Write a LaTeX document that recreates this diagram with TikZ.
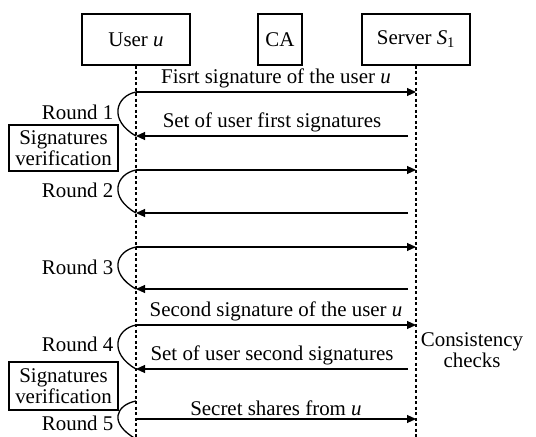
\documentclass[tikz,border=0pt]{standalone}
\usepackage{fontspec}
\setmainfont{Liberation Serif}
\usetikzlibrary{arrows.meta}
\tikzset{
every picture/.style={line width=1.2bp, >={Triangle[length=9bp,width=8bp]}},
%%%%%%%%%%  Node styles
actor/.style={draw, line width=1.2bp, minimum height=51bp, inner sep=0pt},
checkbox/.style={draw, align=center, minimum width=109bp,
                 minimum height=46bp, inner sep=1bp},
roundlabel/.style={anchor=east, inner sep=2bp},
msglabel/.style={above, inner sep=3bp},
%%%% different line styles:
lifeline/.style={dash pattern=on 3bp off 2.5bp, line width=1.2bp},
msg/.style={->, line width=1.1bp},
roundbracket/.style={line width=1.3bp}
}

\begin{document}
\begin{tikzpicture}[x=1bp, y=-1bp, font=\fontsize{21}{21}\selectfont]
\useasboundingbox (0,0) rectangle (536,437);
%% actors
\node[actor, minimum width=108bp] (user) at (136,39.5) {User \textit{u}};
\node[actor, minimum width=44bp] (ca) at (280,39.5) {CA};
\node[actor, minimum width=108bp] (server) at (416,39.5) {Server \textit{S}\textsubscript{1}};
%% lifelines
\coordinate (uend) at (136,437);
\coordinate (send) at (416,437);
\draw[lifeline] (user.south) -- (uend);
\draw[lifeline] (server.south) -- (send);
%% message levels
\foreach \k/\y in {1/92, 2/136, 3/170, 4/213, 5/247, 6/289, 7/325, 8/369, 9/419}
{
  \coordinate (u\k) at (136,\y);
  \coordinate (s\k) at (416,\y);
}
\coordinate (r5a) at (136,401);
\coordinate (r5b) at (136,439);
%% messages
\draw[msg] (u1) -- (s1) node[msglabel, midway] {Fisrt signature of the user \textit{u}};
\draw[msg] ([xshift=-8bp]s2) -- (u2) node[msglabel, midway] {Set of user first signatures};
\draw[msg] (u3) -- (s3);
\draw[msg] ([xshift=-8bp]s4) -- (u4);
\draw[msg] (u5) -- (s5);
\draw[msg] ([xshift=-8bp]s6) -- (u6);
\draw[msg] (u7) -- (s7) node[msglabel, midway] {Second signature of the user \textit{u}};
\draw[msg] ([xshift=-8bp]s8) -- (u8) node[msglabel, midway] {Set of user second signatures};
\draw[msg] (u9) -- (s9) node[msglabel, midway] {Secret shares from \textit{u}};
%% round brackets
\draw[roundbracket] (u1) .. controls +(-20,4) and +(-28,-16) .. (u2);
\draw[roundbracket] (u3) .. controls +(-20,4) and +(-28,-16) .. (u4);
\draw[roundbracket] (u5) .. controls +(-20,4) and +(-28,-16) .. (u6);
\draw[roundbracket] (u7) .. controls +(-20,4) and +(-28,-16) .. (u8);
\draw[roundbracket] (r5a) .. controls +(-20,4) and +(-28,-16) .. (r5b);
%% round labels
\node[roundlabel] (round1) at (116,112) {Round 1};
\node[roundlabel] (round2) at (116,190) {Round 2};
\node[roundlabel] (round3) at (116,267) {Round 3};
\node[roundlabel] (round4) at (116,344) {Round 4};
\node[roundlabel] (round5) at (116,423) {Round 5};
%% verification and checks
\node[checkbox] (verif1) at (63.5,148) {Signatures\\verification};
\node[checkbox, minimum height=48bp] (verif2) at (63.5,386) {Signatures\\verification};
\node[align=center] (checks) at (472,350) {Consistency\\checks};
\end{tikzpicture}
\end{document}
